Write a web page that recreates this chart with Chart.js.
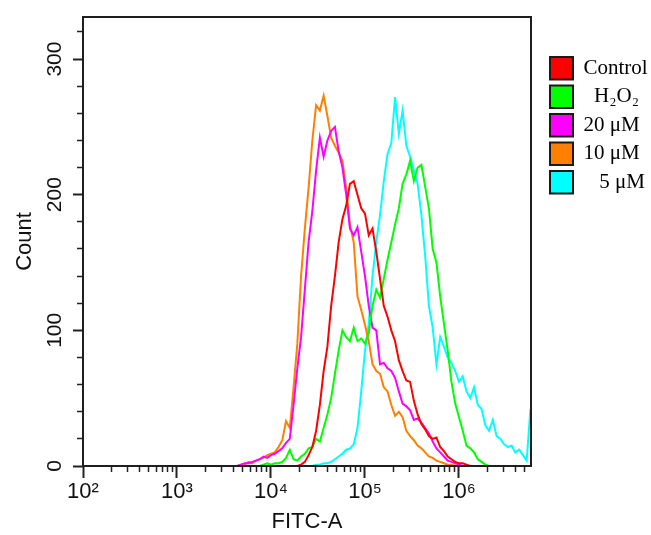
<!DOCTYPE html>
<html><head><meta charset="utf-8">
<script src="https://cdn.jsdelivr.net/npm/chart.js@4.4.1/dist/chart.umd.min.js"></script>
<style>html,body{margin:0;padding:0;background:#fff;}canvas{display:block;}</style>
</head><body>
<canvas id="c" width="651" height="535"></canvas>
<script>
// ---- data (log10 FITC-A channel centres and event counts) ----
const binLog10 = [3.60,3.64,3.68,3.72,3.76,3.80,3.84,3.88,3.92,3.96,
  4.00,4.04,4.08,4.12,4.16,4.20,4.24,4.28,4.32,4.36,
  4.40,4.44,4.48,4.52,4.56,4.60,4.64,4.68,4.72,4.76,
  4.80,4.84,4.88,4.92,4.96,5.00,5.04,5.08,5.12,5.16,
  5.20,5.24,5.28,5.32,5.36,5.40,5.44,5.48,5.52,5.56,
  5.60,5.64,5.68,5.72,5.76,5.80,5.84,5.88,5.92,5.96,
  6.00,6.04,6.08,6.12,6.16,6.20,6.24,6.28,6.32,6.36,
  6.40,6.44,6.48,6.52,6.56,6.60,6.64,6.68,6.72,6.76];

const seriesLabels = ['Control', '  H₂O₂', '20 μM', '10 μM', '   5 μM'];
const seriesColors = ['#ff0000', '#00ff00', '#ff00ff', '#ff8000', '#00ffff'];

const controlCounts = [0,0,0,0,0,0,0,0,0,0,
  0,0,0,0,0,0,0,0,1,3,
  8,14,26,45,70,88,118,140,165,182,
  192,208,210,200,190,186,170,175,158,138,
  118,110,100,92,78,70,63,62,48,38,
  31,27,22,20,21,14,11,7,5,3,
  2,2,1,0,0,0,0,0,0,0,
  0,0,0,0,0,0,0,0,0,0];

const h2o2Counts = [0,0,0,0,0,0,0,0,1,2,
  1,2,2,3,6,12,5,4,7,9,
  13,14,20,18,28,38,50,68,85,100,
  95,92,102,92,94,90,98,118,130,124,
  138,152,165,178,190,208,215,225,210,220,
  222,206,190,160,150,125,105,85,62,46,
  36,26,15,13,10,5,3,1,0,0,
  0,0,0,0,0,0,0,0,0,0];

const uM20Counts = [0,0,1,2,2,3,4,5,7,6,
  8,9,11,13,17,20,45,72,95,130,
  165,188,218,242,228,240,247,250,232,220,
  200,175,170,176,158,140,118,102,100,75,
  76,72,70,65,55,46,44,41,34,35,
  32,28,24,18,13,10,7,4,3,2,
  1,0,0,0,0,0,0,0,0,0,
  0,0,0,0,0,0,0,0,0,0];

const uM10Counts = [0,0,1,1,3,2,4,5,6,8,
  9,10,14,19,33,28,58,90,140,175,
  205,240,266,262,273,258,242,236,231,225,
  205,178,165,125,115,104,92,75,70,68,
  58,55,45,37,40,36,26,22,19,15,
  13,10,7,6,4,3,2,1,1,0,
  0,0,0,0,0,0,0,0,0,0,
  0,0,0,0,0,0,0,0,0,0];

const uM5Counts = [0,0,0,0,0,0,0,0,0,0,
  0,0,0,0,0,0,0,0,0,0,
  0,0,1,1,2,2,3,5,7,9,
  12,13,16,28,55,85,105,140,165,185,
  210,230,238,272,245,262,236,228,218,208,
  185,155,118,102,75,95,88,80,76,70,
  62,66,55,50,58,45,42,30,26,34,
  22,20,16,14,15,10,12,8,4,42];

const xDecades = [2, 3, 4, 5, 6];
const xTickLabels = ['10²', '10³', '10⁴', '10⁵', '10⁶'];
const xMax = 6.766;
const yTickValues = [0,20,40,60,80,100,120,140,160,180,200,220,240,260,280,300,320];
const yLabelValues = [0, 100, 200, 300];
const yMax = 331;

// ---- chart ----
const allCounts = [controlCounts, h2o2Counts, uM20Counts, uM10Counts, uM5Counts];
const datasets = allCounts.map((counts, i) => ({
  label: seriesLabels[i],
  data: binLog10.map((x, k) => ({x: x, y: counts[k]})),
  borderColor: seriesColors[i],
  backgroundColor: seriesColors[i],
  borderWidth: 2,
  pointRadius: 0,
  tension: 0,
  fill: false
}));

Chart.defaults.font.family = "'Liberation Sans', Arial, sans-serif";
Chart.defaults.color = '#111';

const LEGEND_W = 120;
const legendPlace = {
  id: 'legendPlace',
  beforeLayout(chart) {
    const lg = chart.legend;
    if (lg && !lg.__wrapped) {
      const orig = lg.fit;
      lg.fit = function () { orig.call(this); this.width = LEGEND_W; };
      lg.__wrapped = true;
    }
  },
  afterLayout(chart) {
    const lg = chart.legend;
    if (!lg) return;
    const w = lg.width, h = lg.height;
    lg.left = 544; lg.top = 51; lg.right = lg.left + w; lg.bottom = lg.top + h;
  }
};

const framePlugin = {
  id: 'frame',
  afterDatasetsDraw(chart) {
    const {ctx, chartArea: a} = chart;
    ctx.save();
    ctx.strokeStyle = '#1e1e1e';
    ctx.lineWidth = 2;
    ctx.strokeRect(a.left, a.top, a.right - a.left, a.bottom - a.top);
    ctx.restore();
  }
};

const isMajorX = c => c.tick && Number.isInteger(c.tick.value);
const isMajorY = c => c.tick && c.tick.value % 100 === 0;

new Chart(document.getElementById('c'), {
  type: 'line',
  data: {datasets},
  plugins: [legendPlace, framePlugin],
  options: {
    responsive: false,
    devicePixelRatio: 1,
    animation: false,
    events: [],
    layout: {padding: {top: 17, left: 0, right: 0, bottom: 0}},
    scales: {
      x: {
        type: 'linear', min: 2, max: xMax,
        afterBuildTicks(s) {
          const t = [];
          xDecades.forEach(d => {
            t.push({value: d});
            for (let m = 2; m <= 9; m++) {
              const v = d + Math.log10(m);
              if (v <= xMax) t.push({value: v});
            }
          });
          s.ticks = t;
        },
        afterFit(s) { s.height = 69; },
        border: {display: false},
        grid: {
          drawOnChartArea: false, drawTicks: true, tickLength: 12,
          tickColor: '#222',
          tickWidth: c => isMajorX(c) ? 2 : 1.5,
          tickBorderDash: c => isMajorX(c) ? [] : [6, 40]
        },
        ticks: {
          autoSkip: false, maxRotation: 0, minRotation: 0, padding: 1,
          color: '#111', font: {size: 22},
          callback: v => { const i = xDecades.indexOf(v); return i >= 0 ? xTickLabels[i] : ''; }
        },
        title: {display: true, text: 'FITC-A', color: '#111', font: {size: 22}, padding: {top: 0, bottom: 0}}
      },
      y: {
        type: 'linear', min: 0, max: yMax,
        afterBuildTicks(s) { s.ticks = yTickValues.map(v => ({value: v})); },
        afterFit(s) { s.width = 83; },
        border: {display: false},
        grid: {
          drawOnChartArea: false, drawTicks: true, tickLength: 10,
          tickColor: '#222',
          tickWidth: c => isMajorY(c) ? 2 : 1.5,
          tickBorderDash: c => isMajorY(c) ? [] : [0, 4, 6, 40]
        },
        ticks: {
          autoSkip: false, minRotation: 90, maxRotation: 90, crossAlign: 'center', padding: 0,
          color: '#111', font: {size: 21},
          callback: v => yLabelValues.includes(v) ? String(v) : ''
        },
        title: {display: true, text: 'Count', color: '#111', font: {size: 22}, padding: {top: 12, bottom: 0}}
      }
    },
    plugins: {
      tooltip: {enabled: false},
      legend: {
        position: 'right', align: 'start',
        labels: {
          boxWidth: 23, boxHeight: 22.5, padding: 6, color: '#000',
          font: {family: "'Liberation Serif', 'Times New Roman', serif", size: 21},
          generateLabels: chart => chart.data.datasets.map((ds, i) => ({
            text: ds.label, fillStyle: ds.borderColor, strokeStyle: '#1a1a1a',
            lineWidth: 2, hidden: false, datasetIndex: i, fontColor: '#000'
          }))
        }
      }
    }
  }
});
</script>
</body></html>
